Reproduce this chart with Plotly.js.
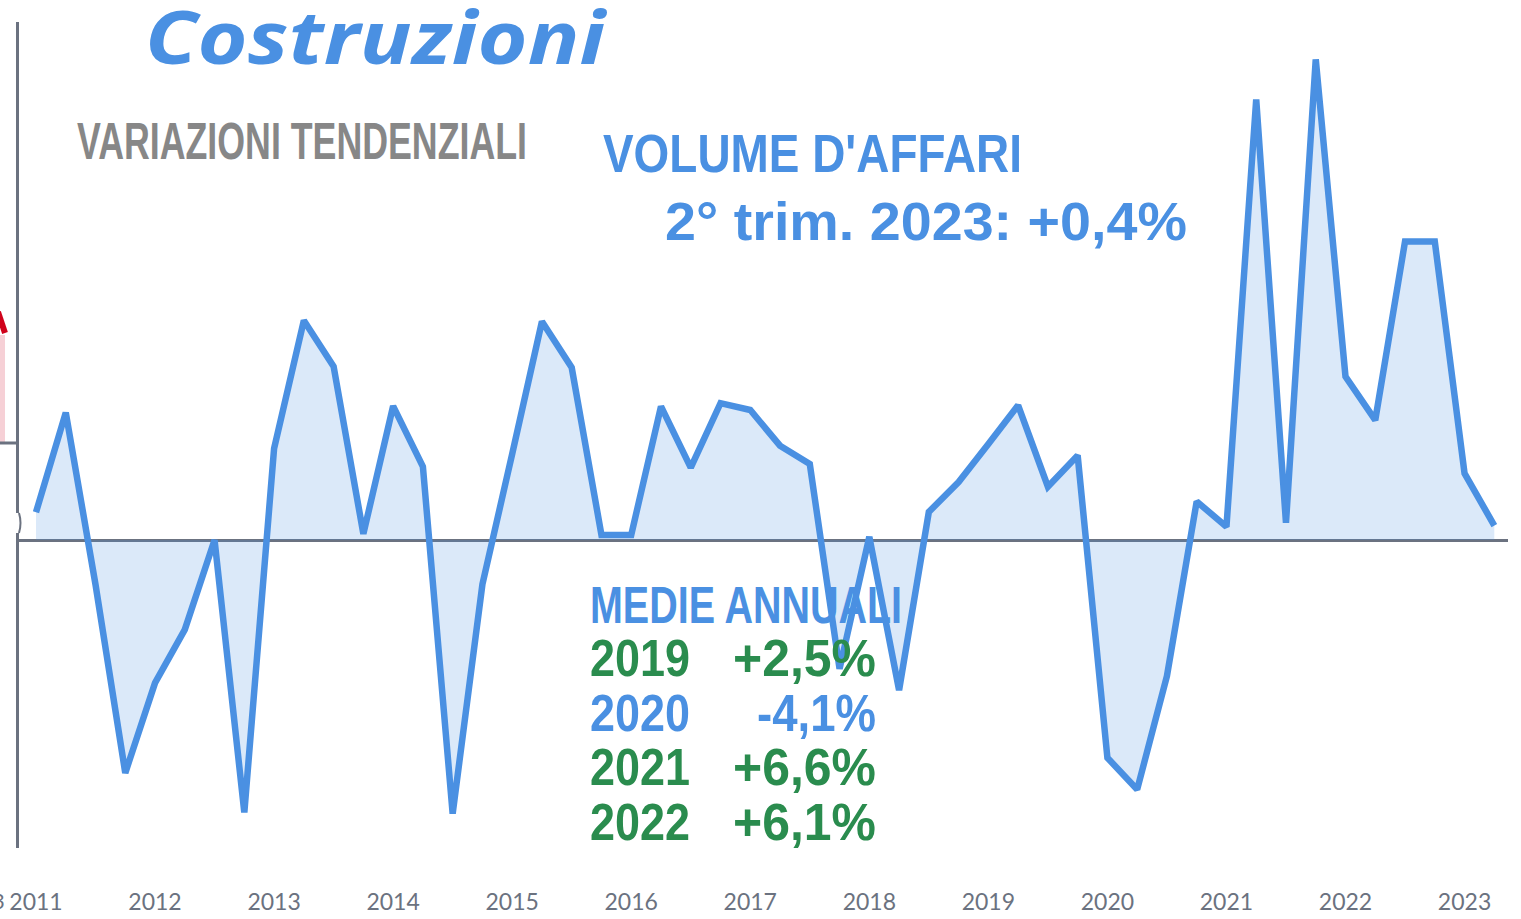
<!DOCTYPE html>
<html>
<head>
<meta charset="utf-8">
<script src="https://cdn.plot.ly/plotly-3.0.1.min.js"></script>
<style>html,body{margin:0;padding:0;background:#fff;}#chart{width:1521px;height:919px;}</style>
</head>
<body>
<div id="chart"></div>
<script>
// ---- data ----
const years = [2011, 2012, 2013, 2014, 2015, 2016, 2017, 2018, 2019, 2020, 2021, 2022, 2023];
const quarterNames = ["T1", "T2", "T3", "T4"];
// quarterly year-on-year change of business volume, construction (%), 2011 T1 .. 2023 T2
const volumeChange = [
  0.77, 3.54, -1.24, -6.47,
  -3.97, -2.49, 0.0, -7.57,
  2.54, 6.10, 4.82, 0.17,
  3.72, 2.04, -7.60, -1.23,
  2.39, 6.07, 4.79, 0.14,
  0.14, 3.71, 2.01, 3.80,
  3.61, 2.62, 2.11, -3.58,
  0.09, -4.17, 0.78, 1.61,
  2.67, 3.74, 1.48, 2.35,
  -6.05, -6.93, -3.78, 1.07,
  0.37, 12.24, 0.48, 13.35,
  4.54, 3.33, 8.29, 8.29,
  1.85, 0.40
];
const avgYears = ["2019", "2020", "2021", "2022"];
const avgValues = ["+2,5%", "-4,1%", "+6,6%", "+6,1%"];
const avgColors = ["#2a8c4e", "#4a90e2", "#2a8c4e", "#2a8c4e"];
const titleText = "Costruzioni";
const subtitleText = "VARIAZIONI TENDENZIALI";
const seriesTitle = "VOLUME D'AFFARI";
const latestText = "2° trim. 2023: +0,4%";
const avgTitle = "MEDIE ANNUALI";

// category labels
const quarters = [];
years.forEach(y => quarterNames.forEach(q => quarters.push(y + " " + q)));
const qLabels = quarters.slice(0, volumeChange.length);
const tickVals = years.map(y => y + " T1");
const tickText = years.map(String);

// ---- layout geometry (pixels) ----
const W = 1521, H = 919;
const L = 19, R = 1508, T = 22, B = 848;
const px = x => (x - L) / (R - L);
const py = y => (B - y) / (B - T);

const BLUE = "#4a90e2";
const GRAY = "#6b7280";
const FONT = "'Liberation Sans', Arial, sans-serif";

const traces = [{
  x: qLabels, y: volumeChange, type: "scatter", mode: "lines",
  line: {color: BLUE, width: 6.5, shape: "linear"},
  fill: "tozeroy", fillcolor: "rgba(74,144,226,0.2)",
  hoverinfo: "x+y", showlegend: false
}];

// annotations placed by their horizontal extent [x0, x1] and vertical centre
const ann = [];
const fitWidths = [];
function txt(text, x0, x1, yc, size, color, extraFont) {
  ann.push({
    text: text, xref: "paper", yref: "paper", x: px((x0 + x1) / 2), y: py(yc),
    xanchor: "center", yanchor: "middle", showarrow: false,
    width: (x1 - x0) + 10,
    font: Object.assign({family: FONT, size: size, color: color, weight: "bold"}, extraFont || {})
  });
  fitWidths.push(x1 - x0);
}
txt(titleText, 146, 606, 36, 74, BLUE, {family: "'Noto Sans', sans-serif", style: "italic"});
txt(subtitleText, 77, 527, 141, 52, "#878787");
txt(seriesTitle, 603, 1022, 153, 53, BLUE);
txt(latestText, 665, 1187, 222, 53, BLUE);
txt(avgTitle, 590, 902, 605, 52, BLUE);
const rowY = [658, 713, 767, 822];
const valX0 = [733, 757, 733, 733];
avgYears.forEach((yr, i) => {
  txt(yr, 590, 690, rowY[i], 52, avgColors[i]);
  txt(avgValues[i], valX0[i], 876, rowY[i], 52, avgColors[i]);
});
// cropped leftover label at the far left
ann.push({text: "3", xref: "paper", yref: "paper", x: px(7), y: py(900), xanchor: "right", yanchor: "middle",
  showarrow: false, font: {family: "Lato, sans-serif", size: 22, color: GRAY}});
fitWidths.push(null);

const shapes = [
  // neighbouring chart fragment on the left edge
  {type: "rect", xref: "paper", yref: "paper", x0: px(0), x1: px(5), y0: py(443), y1: py(335),
   fillcolor: "#f6d0d6", line: {width: 0}, layer: "below"},
  {type: "line", xref: "paper", yref: "paper", x0: px(-2), y0: py(312), x1: px(5), y1: py(333),
   line: {color: "#d0021b", width: 6}},
  {type: "line", xref: "paper", yref: "paper", x0: px(0), y0: py(443), x1: px(19), y1: py(443),
   line: {color: GRAY, width: 3}},
  // axis break mark
  {type: "rect", xref: "paper", yref: "paper", x0: px(16), x1: px(22), y0: py(533), y1: py(513),
   fillcolor: "#ffffff", line: {width: 0}},
  {type: "path", xref: "paper", yref: "paper",
   path: "M " + px(19) + "," + py(513) + " Q " + px(22) + "," + py(523) + " " + px(19) + "," + py(533),
   line: {color: GRAY, width: 2}}
];

const layout = {
  width: W, height: H,
  margin: {l: L, r: W - R, t: T, b: H - B, pad: 0},
  paper_bgcolor: "#ffffff", plot_bgcolor: "#ffffff",
  showlegend: false,
  xaxis: {
    type: "category", range: [-0.571, 49.46],
    tickmode: "array", tickvals: tickVals, ticktext: tickText,
    ticks: "outside", ticklen: 33, tickcolor: "rgba(0,0,0,0)",
    tickfont: {family: "Lato, sans-serif", size: 23, color: GRAY},
    showgrid: false, zeroline: false, showline: false, fixedrange: true
  },
  yaxis: {
    range: [(540 - B) / 36, (540 - T) / 36],
    showgrid: false, showticklabels: false, ticks: "",
    zeroline: true, zerolinecolor: GRAY, zerolinewidth: 3,
    showline: true, linecolor: GRAY, linewidth: 3, mirror: false, fixedrange: true
  },
  annotations: ann,
  shapes: shapes
};

function condense(gd) {
  // condense annotation texts to the widths they occupy in the original
  gd.querySelectorAll(".annotation").forEach(g => {
    const idx = +g.getAttribute("data-index");
    const w = fitWidths[idx];
    const t = g.querySelector("text.annotation-text");
    if (w && t) {
      t.setAttribute("textLength", w);
      t.setAttribute("lengthAdjust", "spacingAndGlyphs");
    }
  });
}
Plotly.newPlot("chart", traces, layout, {displayModeBar: false, staticPlot: true}).then(condense);
</script>
</body>
</html>
